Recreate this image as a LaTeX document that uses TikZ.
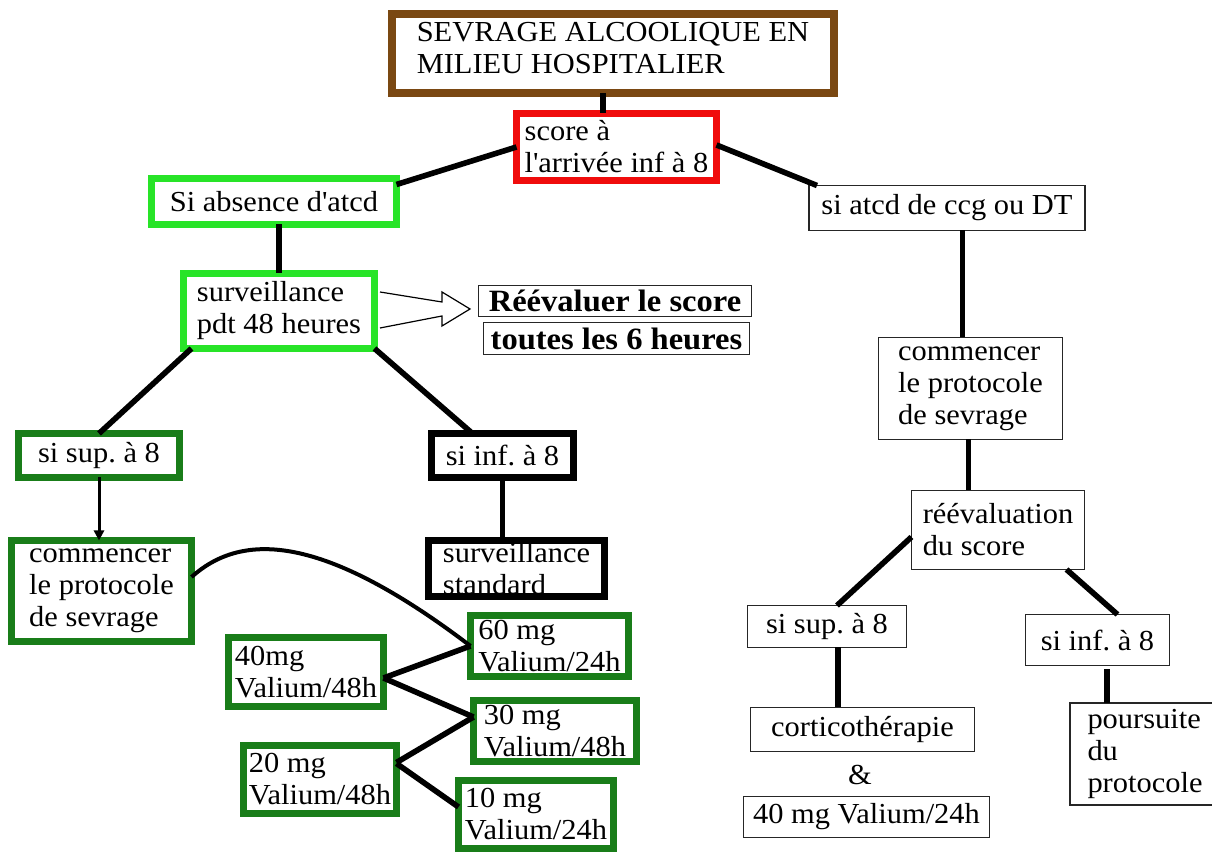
\documentclass[tikz,border=0pt]{standalone}
\usepackage{fontspec}
\setmainfont{Liberation Serif}[FakeStretch=1.05]
\usetikzlibrary{calc,arrows.meta}
\definecolor{brn}{RGB}{122,72,18}
\definecolor{redbox}{RGB}{240,12,12}
\definecolor{lgreen}{RGB}{40,228,40}
\definecolor{dgreen}{RGB}{25,125,25}
\frenchspacing
\begin{document}
\begin{tikzpicture}[x=0.5pt,y=-0.5pt,
  every node/.style={font={\fontsize{14.5}{16}\selectfont}, inner sep=0pt, outer sep=0pt},
  boxbase/.style={draw, fill=white, align=left},
  thickbox/.style={boxbase, line width=3.5pt},
  thinbox/.style={boxbase, line width=0.6pt, draw=black!85},
  boldtxt/.style={font={\bfseries\fontsize{15.5}{17}\selectfont}},
  conn/.style={line width=2.8pt},
  thinconn/.style={line width=1.5pt},
  curveconn/.style={line width=2pt}
]
\useasboundingbox (0,0) rectangle (1212,855);
\fill[white] (0,0) rectangle (1212,855);
\clip (0,0) rectangle (1212,855);

% left / top part
\node[thickbox, draw=brn, line width=4pt, minimum width=221pt, minimum height=39.5pt] (title) at (613,53.5)
  {\raisebox{1pt}[\height][\depth]{\begin{tabular}{@{}l@{}}SEVRAGE ALCOOLIQUE EN\\MILIEU HOSPITALIER\end{tabular}}};
\node[thickbox, draw=redbox, minimum width=100pt, minimum height=33.5pt] (score) at (616.5,147) {score à\\l\textquotesingle arrivée inf à 8};
\node[thickbox, draw=lgreen, minimum width=122.5pt, minimum height=23pt] (sa) at (274,201.5) {Si absence d\textquotesingle atcd};
\node[thickbox, draw=lgreen, minimum width=95.5pt, minimum height=37.5pt] (surv) at (279,311) {surveillance\\pdt 48 heures};
\node[thinbox, boldtxt, minimum width=136.5pt, minimum height=15.5pt] (re1) at (615,301) {Réévaluer le score};
\node[thinbox, boldtxt, minimum width=133pt, minimum height=16pt] (re2) at (616.5,338.5) {toutes les 6 heures};
\node[thickbox, draw=dgreen, minimum width=80.5pt, minimum height=22pt] (sisup) at (99,455.5) {si sup. à 8};
\node[thickbox, draw=black, minimum width=71pt, minimum height=22pt] (siinf) at (502.5,455.5) {si inf. à 8};
\node[thickbox, draw=dgreen, minimum width=90pt, minimum height=50.5pt] (comL) at (101.5,591) {commencer\\le protocole\\de sevrage};
\node[thickbox, draw=black, minimum width=88pt, minimum height=28pt] (sstd) at (516.5,568.5) {surveillance\\standard};
\node[thickbox, draw=dgreen, minimum width=79pt, minimum height=30.5pt] (m60) at (549.5,646) {60 mg\\Valium/24h};
\node[thickbox, draw=dgreen, minimum width=77.5pt, minimum height=34.5pt] (m40) at (306,672) {40mg\\Valium/48h};
\node[thickbox, draw=dgreen, minimum width=81.5pt, minimum height=30.5pt] (m30) at (555,731) {30 mg\\Valium/48h};
\node[thickbox, draw=dgreen, minimum width=76.5pt, minimum height=34pt] (m20) at (320,779.5) {20 mg\\Valium/48h};
\node[thickbox, draw=dgreen, minimum width=77.5pt, minimum height=34pt] (m10) at (536,814.5) {10 mg\\Valium/24h};

% right part
\node[thinbox, minimum width=138pt, minimum height=22.5pt] (atcd) at (947,208) {si atcd de ccg ou DT};
\node[thinbox, minimum width=92pt, minimum height=51pt] (comR) at (970.5,388.5) {commencer\\le protocole\\de sevrage};
\node[thinbox, minimum width=86.5pt, minimum height=39.5pt] (reval) at (998,530) {réévaluation\\du score};
\node[thinbox, minimum width=79.5pt, minimum height=21pt] (supR) at (827,626.5) {si sup. à 8};
\node[thinbox, minimum width=72pt, minimum height=25.5pt] (infR) at (1097.5,640) {si inf. à 8};
\node[thinbox, minimum width=112pt, minimum height=22pt] (cort) at (862.5,729.5) {corticothérapie};
\node (amp) at (860,775) {\&};
\node[thinbox, minimum width=123pt, minimum height=20.5pt] (v40) at (866.5,817) {40 mg Valium/24h};
\node[thinbox, minimum width=75pt, minimum height=51pt] (pours) at (1145,754) {poursuite\\du\\protocole};

% connectors
\draw[conn] ([xshift=-5pt]title.south) -- ([xshift=-5pt]title.south |- score.north);
\draw[conn] (score.west) -- ([yshift=-3pt]sa.north east);
\draw[conn] ([yshift=1pt]score.east) -- ([xshift=4pt]atcd.north west);
\draw[conn] (surv.north |- sa.south) -- (surv.north);
\draw[conn] ([xshift=4pt]surv.south west) -- (sisup.north);
\draw[conn] (surv.south east) -- ([xshift=-15pt]siinf.north);
\draw[thinconn, -{Triangle[length=5pt,width=5pt]}] (sisup.south) -- (sisup.south |- comL.north);
\draw[conn] (siinf.south) -- (siinf.south |- sstd.north);
\draw[curveconn] ([yshift=7pt]comL.east) .. controls +(47,-42) and +(-155,-118) .. (m60.west);
\draw[conn] ([yshift=-3pt]m40.east) -- (m60.west);
\draw[conn] ([yshift=-3pt]m40.east) -- ([yshift=7pt]m30.west);
\draw[conn] ([yshift=8.5pt]m20.east) -- ([yshift=7pt]m30.west);
\draw[conn] ([yshift=8pt]m20.east) -- ([yshift=3.75pt]m10.west);

\draw[conn] ([xshift=-4pt]comR.north |- atcd.south) -- ([xshift=-4pt]comR.north);
\draw[conn] ([xshift=-1pt]comR.south) -- ([xshift=-1pt]comR.south |- reval.north);
\draw[conn] ([yshift=-3.5pt]reval.west) -- ([xshift=5pt]supR.north);
\draw[conn] ([xshift=-9pt]reval.south east) -- ([xshift=10pt]infR.north);
\draw[conn] ([xshift=5.5pt]supR.south) -- ([xshift=5.5pt]supR.south |- cort.north);
\draw[conn] ([xshift=4.75pt,yshift=-2pt]infR.south) -- ([xshift=4.75pt]infR.south |- pours.north);

% hollow arrow
\draw[line width=0.6pt, line join=miter]
  ($(surv.east)+(5.5,-19)$) -- ($(surv.east)+(67.5,-9)$) -- ($(surv.east)+(67.5,-19)$)
  -- ($(surv.east)+(95.5,-2)$) -- ($(surv.east)+(67.5,15)$) -- ($(surv.east)+(67.5,5)$)
  -- ($(surv.east)+(5.5,17)$);
\end{tikzpicture}
\end{document}
